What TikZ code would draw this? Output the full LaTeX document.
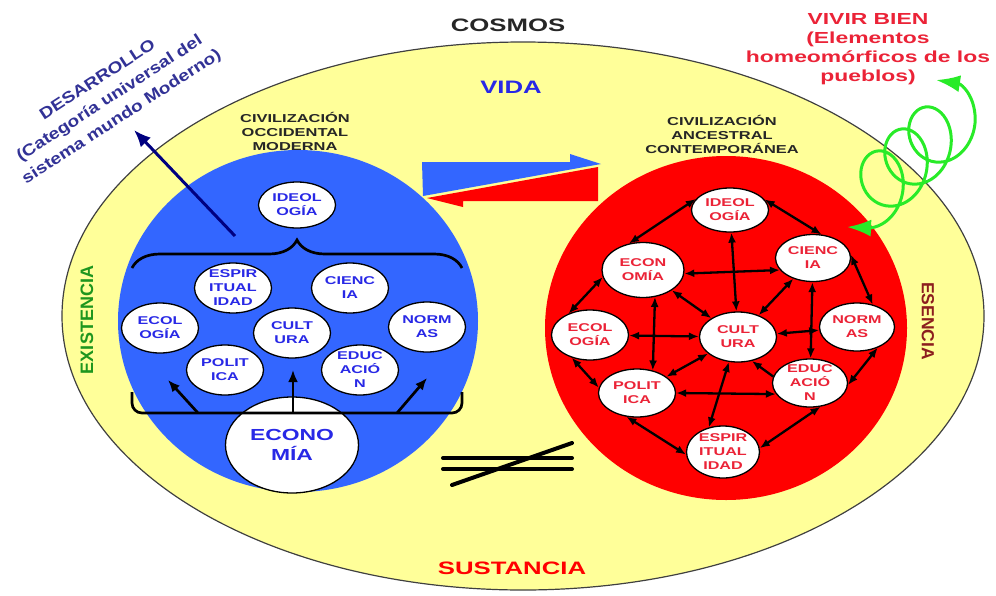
\documentclass[tikz,border=0pt]{standalone}
\usepackage{fontspec}
\setmainfont[FakeStretch=1.43]{Liberation Sans}
\newfontfamily\slantfont[FakeStretch=1.2]{Liberation Sans}
\newfontfamily\plainfont{Liberation Sans}
\usetikzlibrary{arrows,arrows.meta,shapes.geometric,decorations.pathreplacing}
\definecolor{cosmos}{RGB}{255,255,153}
\definecolor{occblue}{RGB}{51,102,255}
\definecolor{ancred}{RGB}{255,0,0}
\definecolor{txtblue}{RGB}{40,40,230}
\definecolor{txtred}{RGB}{235,35,55}
\definecolor{navy}{RGB}{0,0,128}
\definecolor{desblue}{RGB}{50,50,150}
\definecolor{vivgreen}{RGB}{40,235,40}
\definecolor{esbrown}{RGB}{140,30,30}
\definecolor{exgreen}{RGB}{30,150,30}

\begin{document}
\begin{tikzpicture}[x=1pt,y=-1pt,>={Latex[length=10pt,width=8pt]},
    occ/.style={ellipse,draw=black,line width=1.3pt,fill=white,inner sep=0pt,
      minimum width=77pt,minimum height=50pt,align=center,
      font=\bfseries\fontsize{11.3}{14}\selectfont,text=txtblue},
    anc/.style={occ,text=txtred},
    threeline/.style={inner ysep=-6pt},
    link/.style={<->,line width=2.3pt},
    rise/.style={-{Latex[length=12pt,width=10pt]},line width=2.7pt},
    bracestroke/.style={line width=2.7pt},
    title/.style={font=\bfseries\fontsize{18}{22}\selectfont},
    civ/.style={align=center,text=black!85,font=\bfseries\fontsize{11.5}{14}\selectfont}]
  \useasboundingbox (0,0) rectangle (996,595);

  \draw[fill=cosmos,draw=black!75,line width=1.2pt] (523,316) ellipse [x radius=461pt,y radius=274pt];
  \fill[occblue] (298,321) ellipse [x radius=180pt,y radius=171pt];
  \fill[ancred] (726,328) ellipse [x radius=181pt,y radius=172pt];

  \node[title,text=black!85] (cosmos) at (508,25) {COSMOS};
  \node[title,text=txtblue] (vida) at (511,87) {VIDA};
  \node[title,text=ancred] (sust) at (512,568) {SUSTANCIA};
  \node[rotate=90,text=exgreen,font=\plainfont\bfseries\fontsize{18}{22}\selectfont] (exis) at (87,320) {EXISTENCIA};
  \node[rotate=-90,text=esbrown,font=\plainfont\bfseries\fontsize{17.5}{22}\selectfont] (esen) at (928,321) {ESENCIA};
  \node[civ] (civocc) at (295,131) {CIVILIZACIÓN\\OCCIDENTAL\\MODERNA};
  \node[civ] (civanc) at (722,134) {CIVILIZACIÓN\\ANCESTRAL\\CONTEMPORÁNEA};
  \node[align=center,text=txtred,font=\bfseries\fontsize{16}{19}\selectfont] (vivir) at (868,49)
    {VIVIR BIEN\\(Elementos\\homeomórficos de los\\pueblos)};
  \node[rotate=33,align=center,text=desblue,font=\slantfont\bfseries\fontsize{16}{22}\selectfont] (desa) at (110,99)
    {DESARROLLO\\(Categoría universal del\\sistema mundo Moderno)};

  \fill[occblue] (422,162) -- (570,162) -- (570,154) -- (601,164) -- (423,196) -- cycle;
  \fill[ancred] (598,167) -- (598,201) -- (463,201) -- (463,207) -- (427,198) -- cycle;

  \draw[line width=4pt,line cap=round] (443,458) -- (572,458);
  \draw[line width=4pt,line cap=round] (443,469) -- (572,469);
  \draw[line width=4pt,line cap=round] (452,485) -- (572,443);

  \node[occ,minimum height=46pt] (lideo) at (297,205) {IDEOL\\OGÍA};
  \node[occ,threeline] (lespi) at (233,288) {ESPIR\\ITUAL\\IDAD};
  \node[occ] (lcien) at (350,288) {CIENC\\IA};
  \node[occ] (lecol) at (160,328) {ECOL\\OGÍA};
  \node[occ] (lcult) at (292,333) {CULT\\URA};
  \node[occ] (lnorm) at (427,327) {NORM\\AS};
  \node[occ] (lpoli) at (225,370) {POLIT\\ICA};
  \node[occ,threeline] (ledu) at (360,370) {EDUC\\ACIÓ\\N};
  \node[occ,minimum width=133pt,minimum height=96pt,font=\bfseries\fontsize{16}{20}\selectfont] (leco) at (292,445) {ECONO\\MÍA};

  \draw[bracestroke,decorate,decoration={brace,amplitude=28pt}] (132,268) -- (462,268);
  \draw[bracestroke,rounded corners=10pt] (132,392) -- (132,413) -- (462,413) -- (462,392);
  \coordinate (bleft) at (198,413);
  \coordinate (bmid) at (293,413);
  \coordinate (bright) at (397,413);
  \coordinate (tleft) at (168,380);
  \coordinate (tmid) at (293,370);
  \coordinate (tright) at (427,378);
  \draw[rise] (bleft) -- (tleft);
  \draw[rise] (bmid) -- (tmid);
  \draw[rise] (bright) -- (tright);
  \coordinate (desfrom) at (235,236);
  \coordinate (desto) at (134,130);
  \draw[-{Latex[length=17pt,width=14pt]},navy,line width=3pt] (desfrom) -- (desto);

  \node[anc,minimum height=44pt] (rideo) at (730,210) {IDEOL\\OGÍA};
  \node[anc,minimum width=82pt,minimum height=55pt] (recon) at (643,270) {ECON\\OMÍA};
  \node[anc,minimum width=75pt,minimum height=47pt] (rcien) at (813,258) {CIENC\\IA};
  \node[anc] (recol) at (590,335) {ECOL\\OGÍA};
  \node[anc] (rcult) at (738,337) {CULT\\URA};
  \node[anc,minimum width=75pt,minimum height=48pt] (rnorm) at (857,327) {NORM\\AS};
  \node[anc,minimum height=48pt] (rpoli) at (637,393) {POLIT\\ICA};
  \node[anc,threeline,minimum width=75pt,minimum height=48pt] (redu) at (810,383) {EDUC\\ACIÓ\\N};
  \node[anc,threeline,minimum width=73pt,minimum height=52pt] (respi) at (723,452) {ESPIR\\ITUAL\\IDAD};

  \draw[link] (rideo.162) -- (recon.118);
  \draw[link] (rideo.17) -- (rcien.70);
  \draw[link] (rideo) -- (rcult);
  \draw[link] (recon.355) -- (rcien.200);
  \draw[link] (recon.190) -- (recol.135);
  \draw[link] (recon) -- (rcult);
  \draw[link] (recon.294) -- (rpoli.55);
  \draw[link] (rcien) -- (rcult);
  \draw[link] (rcien.5) -- (rnorm.55);
  \draw[link] (rcien) -- (redu);
  \draw[link] (rcult) -- (rnorm);
  \draw[link] (recol) -- (rcult);
  \draw[link] (recol.231) -- (rpoli.172);
  \draw[link] (rpoli) -- (rcult);
  \draw[link] (rpoli.0) -- (redu.198);
  \draw[link] (rcult.250) -- (respi.120);
  \draw[link,<-] (rcult.300) -- (redu.170);
  \draw[link] (rpoli.246) -- (respi.184);
  \draw[link] (redu.294) -- (respi.6);
  \draw[link] (redu.357) -- (rnorm.315);

  \coordinate (vivs) at (847,227);
  \coordinate (vive) at (936,80);
  \draw[vivgreen,line width=3pt,{Latex[length=24pt,width=17pt]}-{Latex[length=24pt,width=17pt]}]
    (vivs) -- plot[domain=0:3.25,samples=150,smooth] ({870+24*\x+27*sin(360*\x)},{195-22*\x+33*cos(360*\x)})
    .. controls (977,98) and (962,84) .. (vive);
\end{tikzpicture}
\end{document}
